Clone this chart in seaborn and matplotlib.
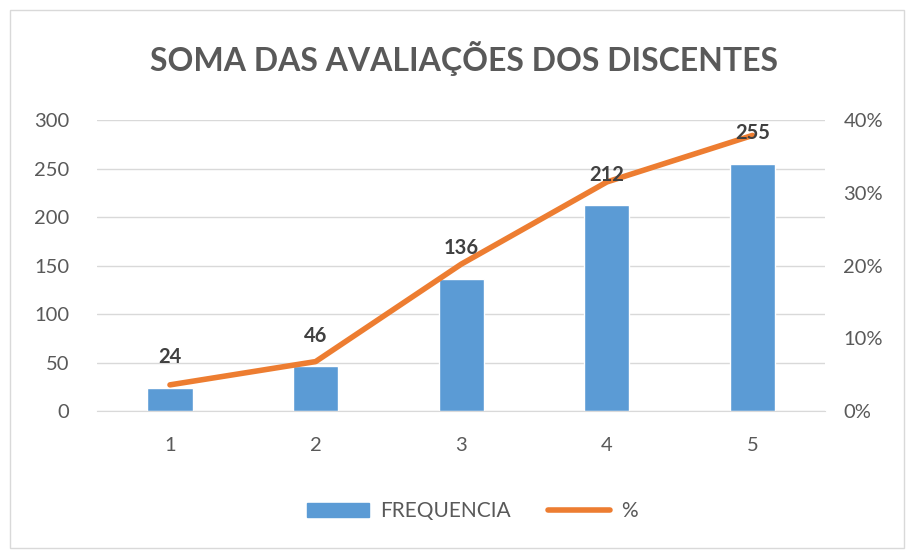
import numpy as np
import pandas as pd
import matplotlib.pyplot as plt
import seaborn as sns
from matplotlib.patches import Rectangle
from matplotlib.lines import Line2D
from matplotlib.ticker import PercentFormatter

# dados
notas = ["1", "2", "3", "4", "5"]
frequencia = [24, 46, 136, 212, 255]
percentual = [3.6, 6.8, 20.2, 31.5, 37.9]

azul = "#5B9BD5"
laranja = "#ED7D31"
cinza = "#595959"

sns.set_style("white")
plt.rcParams['font.family'] = ['Lato', 'DejaVu Sans']

df = pd.DataFrame({"Nota": notas, "FREQUENCIA": frequencia, "%": percentual})

fig = plt.figure(figsize=(9.08, 5.51), dpi=100)
ax = fig.add_axes([0.107, 0.254, 0.802, 0.528])

sns.barplot(data=df, x="Nota", y="FREQUENCIA", color=azul, width=0.31,
            saturation=1, ax=ax, zorder=2)
ax.set_ylim(0, 300)
ax.set_yticks(range(0, 301, 50))
ax.set_xlim(-0.5, 4.5)
ax.grid(axis="y", color="#d9d9d9", linewidth=1, zorder=0)
ax.set_axisbelow(True)
ax.set_xlabel("")
ax.set_ylabel("")
for s in ax.spines.values():
    s.set_visible(False)
ax.spines["bottom"].set_visible(True)
ax.spines["bottom"].set_color("#d9d9d9")
ax.tick_params(axis="both", length=0, labelsize=14.5, labelcolor=cinza, pad=20)
ax.tick_params(axis="x", pad=19)

ax2 = ax.twinx()
sns.lineplot(x=np.arange(len(notas)), y=percentual, color=laranja, linewidth=4,
             ax=ax2, zorder=3)
ax2.set_ylim(0, 40)
ax2.set_yticks(range(0, 41, 10))
ax2.yaxis.set_major_formatter(PercentFormatter(decimals=0))
ax2.tick_params(axis="y", length=0, labelsize=14.5, labelcolor=cinza, pad=13)
for s in ax2.spines.values():
    s.set_visible(False)
ax2.set_ylabel("")

for i, v in enumerate(frequencia):
    ax2.annotate(str(v), (i, v / 300 * 40), xytext=(0, 15), textcoords="offset points",
                 ha="center", va="bottom", fontsize=14.5, fontweight="bold", color="#404040")

fig.text(0.511, 0.893, "SOMA DAS AVALIAÇÕES DOS DISCENTES", ha="center", va="center",
         fontsize=23, fontweight="bold", color=cinza)

handles = [Rectangle((0, 0), 1, 1, color=azul),
           Line2D([0], [0], color=laranja, linewidth=4)]
fig.legend(handles, ["FREQUENCIA", "%"], loc="center", bbox_to_anchor=(0.52, 0.072),
           ncol=2, frameon=False, fontsize=15, labelcolor=cinza, handlelength=3.0,
           columnspacing=1.8, handletextpad=0.5)

fig.patches.append(Rectangle((0.011, 0.005), 0.985, 0.977, transform=fig.transFigure,
                             fill=False, edgecolor="#d9d9d9", linewidth=1))

fig.savefig("out.png", dpi=100)
